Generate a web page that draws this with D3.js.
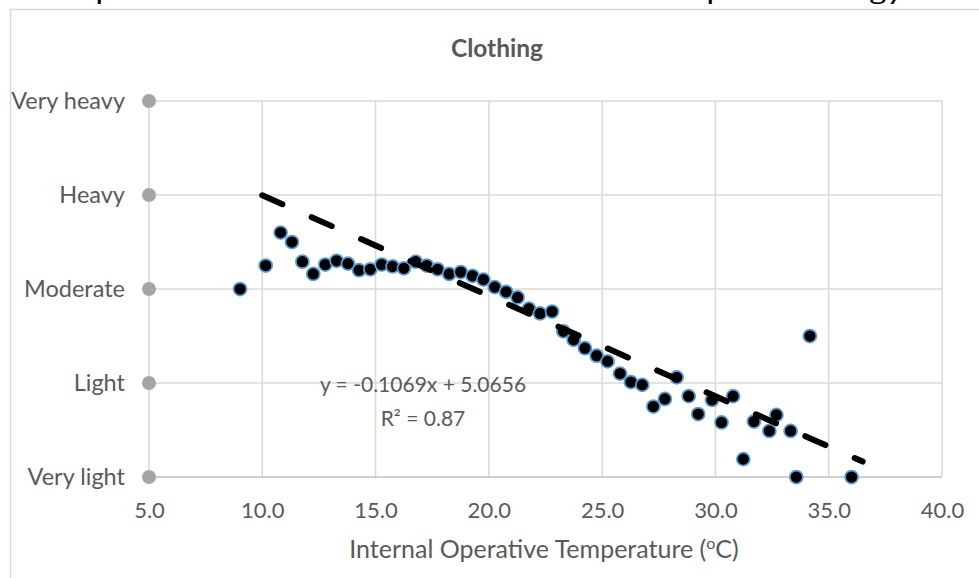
<!DOCTYPE html>
<html>
<head>
<meta charset="utf-8">
<script src="https://cdn.jsdelivr.net/npm/d3@7"></script>
<style>
  html, body { margin: 0; padding: 0; background: #fff; }
  svg { display: block; }
  text { font-family: Lato, "Open Sans", sans-serif; }
</style>
</head>
<body>
<svg id="chart" width="979" height="578"></svg>
<script>
// ---- data ----
const chartTitle = "Clothing";
const captionText = "the scope of the TSV indicates that there is an adaptive strategy";
const xTicks = [5, 10, 15, 20, 25, 30, 35, 40];
const clothingLevels = ["Very light", "Light", "Moderate", "Heavy", "Very heavy"];
const levelValues = [1, 2, 3, 4, 5];
const temperature = [9.02, 10.15, 10.81, 11.31, 11.77, 12.25, 12.78, 13.28, 13.78, 14.27,
  14.77, 15.27, 15.75, 16.25, 16.77, 17.26, 17.74, 18.25, 18.76, 19.28,
  19.76, 20.26, 20.76, 21.27, 21.77, 22.26, 22.79, 23.29, 23.74, 24.24,
  24.76, 25.24, 25.79, 26.27, 26.77, 27.26, 27.77, 28.29, 28.82, 29.24,
  29.85, 30.27, 30.78, 31.23, 31.70, 32.38, 32.69, 33.32, 33.57, 34.17, 36.01];
const clothing = [3.00, 3.25, 3.60, 3.50, 3.29, 3.16, 3.26, 3.30, 3.27, 3.20,
  3.21, 3.26, 3.24, 3.22, 3.29, 3.25, 3.21, 3.16, 3.18, 3.14,
  3.10, 3.02, 2.97, 2.91, 2.79, 2.74, 2.76, 2.55, 2.46, 2.37,
  2.29, 2.23, 2.10, 2.01, 1.98, 1.75, 1.83, 2.06, 1.86, 1.67,
  1.82, 1.58, 1.86, 1.19, 1.59, 1.49, 1.66, 1.49, 1.00, 2.50, 1.00];
const trendSlope = -0.1069;
const trendIntercept = 5.0656;
const trendRange = [10, 36.5];
const equationLines = ["y = -0.1069x + 5.0656", "R² = 0.87"];

// ---- layout ----
const svg = d3.select("#chart");
const x = d3.scaleLinear().domain([5, 40]).range([149, 942]);
const y = d3.scaleLinear().domain([1, 5]).range([477, 101]);
const textCol = "#595959";
const gridCol = "#d9d9d9";

// cut-off caption at very top (cropped in the reference too)
svg.append("text")
  .attr("x", -8).attr("y", 0)
  .attr("textLength", 911).attr("lengthAdjust", "spacingAndGlyphs")
  .style("font-size", "24px").style("fill", "#000")
  .text(captionText);

// chart border (extends past the window)
svg.append("rect")
  .attr("x", 10.5).attr("y", 9.5)
  .attr("width", 1000).attr("height", 600)
  .attr("fill", "none").attr("stroke", gridCol).attr("stroke-width", 1.5);

// title
svg.append("text")
  .attr("x", 497).attr("y", 57)
  .attr("text-anchor", "middle")
  .style("font-size", "24.5px").style("font-weight", "bold").style("fill", textCol)
  .text(chartTitle);

// gridlines
const g = svg.append("g");
g.selectAll(".vg").data(xTicks).enter().append("line")
  .attr("x1", d => x(d)).attr("x2", d => x(d))
  .attr("y1", y(5)).attr("y2", y(1))
  .attr("stroke", gridCol).attr("stroke-width", 1.5);
g.selectAll(".hg").data(levelValues.filter(v => v > 1)).enter().append("line")
  .attr("x1", x(5)).attr("x2", x(40))
  .attr("y1", d => y(d)).attr("y2", d => y(d))
  .attr("stroke", gridCol).attr("stroke-width", 1.5);

// x axis line
g.append("line")
  .attr("x1", x(5)).attr("x2", x(40)).attr("y1", y(1)).attr("y2", y(1))
  .attr("stroke", "#bfbfbf").attr("stroke-width", 1.5);

// x axis tick labels
const xAxis = d3.axisBottom(x).tickValues(xTicks).tickFormat(d3.format(".1f")).tickSize(0).tickPadding(0);
const xa = svg.append("g").attr("transform", `translate(0,${y(1)})`).call(xAxis);
xa.select(".domain").remove();
xa.selectAll("text")
  .attr("y", 41).attr("dy", null)
  .style("font-size", "22px").style("fill", textCol)
  .style("font-family", "Lato, 'Open Sans', sans-serif");

// x axis title
const xt = svg.append("text")
  .attr("x", 544).attr("y", 558)
  .attr("text-anchor", "middle")
  .style("font-size", "25px").style("fill", textCol);
xt.append("tspan").text("Internal Operative Temperature (");
xt.append("tspan").attr("baseline-shift", "super").style("font-size", "16px").text("o");
xt.append("tspan").text("C)");

// y category markers (grey dots at x=5) and labels
svg.selectAll(".cat").data(levelValues).enter().append("circle")
  .attr("cx", x(5)).attr("cy", d => y(d)).attr("r", 7)
  .attr("fill", "#a5a5a5");
svg.selectAll(".catl").data(levelValues).enter().append("text")
  .attr("x", 125).attr("y", d => y(d) + 8)
  .attr("text-anchor", "end")
  .style("font-size", "23.5px").style("fill", textCol)
  .text((d, i) => clothingLevels[i]);

// data points
svg.selectAll(".pt").data(temperature).enter().append("circle")
  .attr("cx", d => x(d)).attr("cy", (d, i) => y(clothing[i]))
  .attr("r", 6.5)
  .attr("fill", "#000").attr("stroke", "#5b9bd5").attr("stroke-width", 1.75);

// trendline
const line = d3.line().x(d => x(d)).y(d => y(trendSlope * d + trendIntercept));
svg.append("path")
  .datum(trendRange)
  .attr("d", line)
  .attr("fill", "none").attr("stroke", "#000").attr("stroke-width", 6)
  .attr("stroke-linecap", "round")
  .attr("stroke-dasharray", "22 32");

// equation
equationLines.forEach((t, i) => {
  svg.append("text")
    .attr("x", 423).attr("y", 392 + i * 34)
    .attr("text-anchor", "middle")
    .style("font-size", "21px").style("fill", textCol)
    .text(t);
});
</script>
</body>
</html>
